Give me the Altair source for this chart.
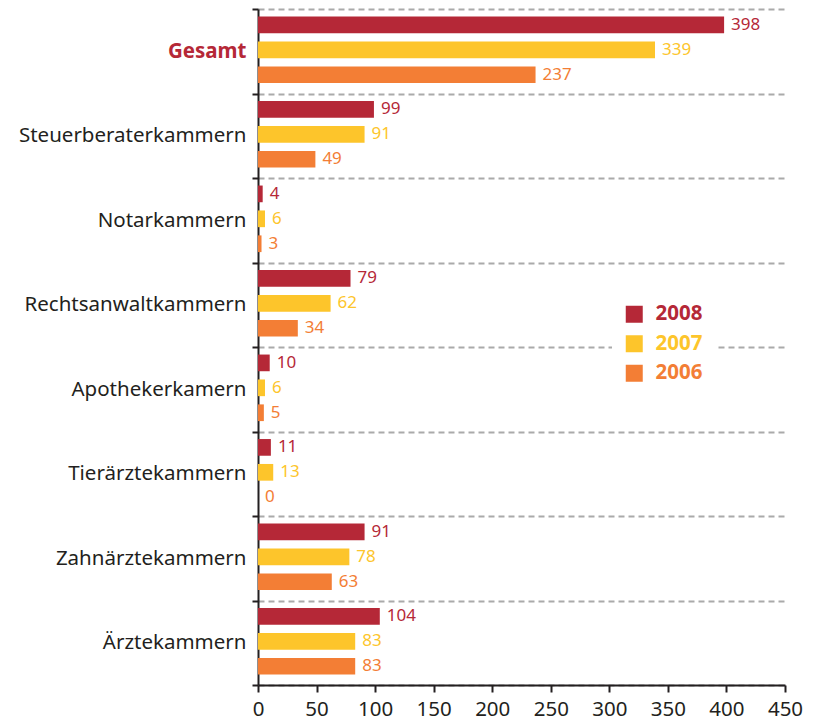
import altair as alt
import pandas as pd

categories = ["Gesamt", "Steuerberaterkammern", "Notarkammern", "Rechtsanwaltkammern",
              "Apothekerkamern", "Tierärztekammern", "Zahnärztekammern", "Ärztekammern"]
years = ["2008", "2007", "2006"]
v2008 = [398, 99, 4, 79, 10, 11, 91, 104]
v2007 = [339, 91, 6, 62, 6, 13, 78, 83]
v2006 = [237, 49, 3, 34, 5, 0, 63, 83]
colors = ["#b52837", "#fdc52b", "#f37e35"]
x_ticks = [0, 50, 100, 150, 200, 250, 300, 350, 400, 450]

rows = []
for yr, vals in zip(years, [v2008, v2007, v2006]):
    for c, v in zip(categories, vals):
        rows.append({"Kategorie": c, "Jahr": yr, "Wert": v})
df = pd.DataFrame(rows)

FONT = "Noto Sans"
TXT = "#231f20"

y_enc = alt.Y("Kategorie:N", sort=categories, title=None,
              scale=alt.Scale(paddingInner=0, paddingOuter=0),
              axis=alt.Axis(tickBand="extent", grid=True, gridDash=[6, 4], gridColor="#aaaaaa",
                            gridWidth=2, domainColor=TXT, domainWidth=2, tickColor=TXT,
                            tickWidth=2, tickSize=6, labelPadding=6, labelFontSize=20.5,
                            labelFont=FONT, labelLimit=0,
                            labelColor={"condition": {"test": "datum.value == 'Gesamt'", "value": "#b52837"}, "value": TXT},
                            labelFontWeight={"condition": {"test": "datum.value == 'Gesamt'", "value": "bold"}, "value": "normal"}))
yoff_enc = alt.YOffset("Jahr:N", sort=years,
                       scale=alt.Scale(paddingInner=0.33, paddingOuter=0.36, align=0.42))
x_enc = alt.X("Wert:Q", title=None,
              scale=alt.Scale(domain=[0, 450], nice=False),
              axis=alt.Axis(values=x_ticks, grid=False, domainColor=TXT, domainWidth=2,
                            tickColor=TXT, tickWidth=2, tickSize=7, labelFontSize=20.5,
                            labelFont=FONT, labelColor=TXT, labelPadding=7,
                            labelFlush=False, labelOverlap=False))

color_scale = alt.Scale(domain=years, range=colors)

bars = alt.Chart(df).mark_bar().encode(
    x=x_enc, y=y_enc, yOffset=yoff_enc,
    color=alt.Color("Jahr:N", sort=years, scale=color_scale,
                    legend=alt.Legend(orient="none", legendX=354, legendY=283, padding=12,
                                      fillColor="white", symbolType="square", symbolSize=289,
                                      symbolStrokeWidth=0, symbolOpacity=1, labelFontSize=20.5,
                                      labelFontWeight="bold", labelFont=FONT,
                                      labelColor={"expr": "datum.label == '2008' ? '#b52837' : datum.label == '2007' ? '#fdc52b' : '#f37e35'"},
                                      title=None, rowPadding=8.5, labelOffset=11))
)

labels = alt.Chart(df).mark_text(align="left", baseline="middle", dx=7, fontSize=17, font=FONT).encode(
    x="Wert:Q", y=alt.Y("Kategorie:N", sort=categories), yOffset=alt.YOffset("Jahr:N", sort=years),
    text="Wert:Q",
    color=alt.Color("Jahr:N", sort=years, scale=color_scale, legend=None)
)

chart = alt.layer(bars, labels).properties(
    width=527, height=676,
    autosize=alt.AutoSizeParams(type="none"),
    padding={"top": 1, "left": 250, "right": 22, "bottom": 42}
).configure_view(stroke=None)

chart.save("out.html", embed_options={"renderer": "svg", "actions": False})
